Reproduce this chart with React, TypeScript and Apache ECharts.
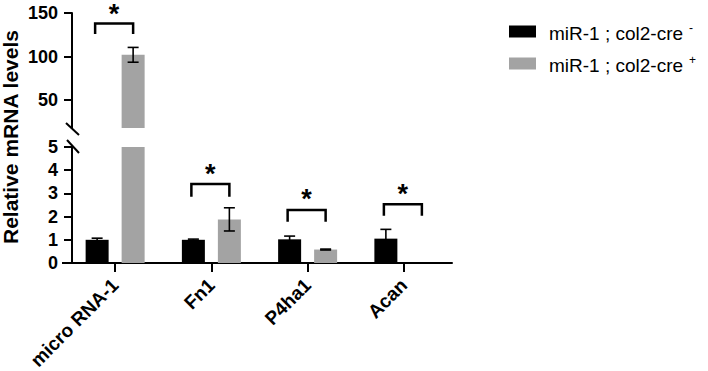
import React, { useEffect, useRef } from "react";
import * as echarts from "echarts";

const categories = ["micro RNA-1", "Fn1", "P4ha1", "Acan"];
const negMeans = [1.0, 1.0, 1.02, 1.05];
const negErr = [0.07, 0.03, 0.14, 0.4];
const posMeans = [102, 1.88, 0.58, 0];
const posErr = [8.5, 0.5, 0.02, 0];

const sigLine = [138, 3.4, 2.28, 2.53];
const sigLeg = [126, 2.86, 1.78, 2.04];
const sigStar = [156, 4.1, 3.02, 3.25];

const lowerTicks = [0, 1, 2, 3, 4, 5];
const upperTicks = [50, 100, 150];
const LOWER_MAX = 5;
const UPPER_MIN = 18;
const UPPER_MAX = 150;

const seriesNames = ["miR-1 ; col2-cre -", "miR-1 ; col2-cre +"];
const legendText = ["miR-1 ; col2-cre", "miR-1 ; col2-cre"];
const legendSup = ["-", "+"];

const FONT = "Liberation Sans, Arial, Helvetica, sans-serif";
const BLACK = "#000000";
const GRAY = "#a3a3a3";
const BAR_W = 23;
const BAR_GAP_PX = 13;
const HALF_SPACING = (BAR_W + BAR_GAP_PX) / 2;
const CAP_HALF = 5.5;
const BRACKET_HALF = 19;

export default function App() {
  const ref = useRef<HTMLDivElement>(null);
  useEffect(() => {
    if (!ref.current) return;
    const chart = echarts.init(ref.current, undefined, { renderer: "svg" });

    const errLower: number[][] = [];
    const errUpper: number[][] = [];
    [negMeans, posMeans].forEach((means, s) => {
      const errs = s === 0 ? negErr : posErr;
      means.forEach((m, i) => {
        if (errs[i] <= 0) return;
        if (m + errs[i] <= LOWER_MAX) errLower.push([i, m, errs[i], s]);
        else if (m > UPPER_MIN) errUpper.push([i, m, errs[i], s]);
      });
    });
    const sigLower: number[][] = [];
    const sigUpper: number[][] = [];
    categories.forEach((_, i) => {
      const row = [i, sigLine[i], sigLeg[i], sigStar[i]];
      if (sigLine[i] > LOWER_MAX) sigUpper.push(row);
      else sigLower.push(row);
    });

    const errRender = (params: any, api: any) => {
      const i = api.value(0);
      const m = api.value(1);
      const e = api.value(2);
      const s = api.value(3);
      const top = api.coord([i, m + e]);
      const bot = api.coord([i, Math.max(m - e, 0)]);
      const cx = top[0] + (s === 0 ? -HALF_SPACING : HALF_SPACING);
      const style = { stroke: BLACK, lineWidth: 1.6 };
      return {
        type: "group",
        children: [
          { type: "line", shape: { x1: cx, y1: top[1], x2: cx, y2: bot[1] }, style },
          { type: "line", shape: { x1: cx - CAP_HALF, y1: top[1], x2: cx + CAP_HALF, y2: top[1] }, style },
          { type: "line", shape: { x1: cx - CAP_HALF, y1: bot[1], x2: cx + CAP_HALF, y2: bot[1] }, style },
        ],
      };
    };

    const sigRender = (params: any, api: any) => {
      const i = api.value(0);
      const lineP = api.coord([i, api.value(1)]);
      const legP = api.coord([i, api.value(2)]);
      const starP = api.coord([i, api.value(3)]);
      const cx = lineP[0] - 1;
      return {
        type: "group",
        children: [
          {
            type: "polyline",
            shape: {
              points: [
                [cx - BRACKET_HALF, legP[1]],
                [cx - BRACKET_HALF, lineP[1]],
                [cx + BRACKET_HALF, lineP[1]],
                [cx + BRACKET_HALF, legP[1]],
              ],
            },
            style: { stroke: BLACK, lineWidth: 2.5, fill: "none" },
          },
          {
            type: "text",
            style: {
              text: "*",
              x: cx,
              y: starP[1] + 6,
              fontSize: 27,
              lineHeight: 16,
              fontWeight: "bold",
              fontFamily: FONT,
              fill: BLACK,
              align: "center",
              verticalAlign: "middle",
              textAlign: "center",
              textVerticalAlign: "middle",
            },
          },
        ],
      };
    };

    const gridLeft = 67;
    const gridWidth = 385;

    const axisLine = { show: true, lineStyle: { color: BLACK, width: 2 } };
    const yLabel = { color: BLACK, fontSize: 18, fontWeight: "bold", fontFamily: FONT, margin: 14 };

    const barCommon = (gi: number) => [
      {
        name: seriesNames[0],
        type: "bar",
        xAxisIndex: gi,
        yAxisIndex: gi,
        data: negMeans,
        barWidth: BAR_W,
        barGap: (BAR_GAP_PX / BAR_W) * 100 + "%",
        itemStyle: { color: BLACK },
        clip: true,
      },
      {
        name: seriesNames[1],
        type: "bar",
        xAxisIndex: gi,
        yAxisIndex: gi,
        data: posMeans,
        barWidth: BAR_W,
        barGap: (BAR_GAP_PX / BAR_W) * 100 + "%",
        itemStyle: { color: GRAY },
        clip: true,
      },
    ];

    const option: any = {
      animation: false,
      backgroundColor: "#ffffff",
      textStyle: { fontFamily: FONT },
      grid: [
        { left: gridLeft, width: gridWidth, top: 13, height: 115, outerBoundsMode: "none", containLabel: false },
        { left: gridLeft, width: gridWidth, top: 147, height: 116, outerBoundsMode: "none", containLabel: false },
      ],
      xAxis: [
        { type: "category", gridIndex: 0, data: categories, show: false },
        {
          type: "category",
          gridIndex: 1,
          data: categories,
          axisLine,
          axisTick: { show: true, alignWithLabel: true, length: 9, lineStyle: { color: BLACK, width: 2 }, interval: 0 },
          axisLabel: {
            interval: 0,
            rotate: 45,
            color: BLACK,
            fontSize: 19,
            fontWeight: "bold",
            fontFamily: FONT,
            margin: 19,
          },
        },
      ],
      yAxis: [
        {
          type: "value",
          gridIndex: 0,
          min: UPPER_MIN,
          max: UPPER_MAX,
          offset: -5,
          axisLine,
          axisTick: { show: true, length: 8, lineStyle: { color: BLACK, width: 2 }, customValues: upperTicks },
          axisLabel: { ...yLabel, customValues: upperTicks },
          splitLine: { show: false },
        },
        {
          type: "value",
          gridIndex: 1,
          min: 0,
          max: LOWER_MAX,
          interval: 1,
          offset: -5,
          axisLine,
          axisTick: { show: true, length: 8, lineStyle: { color: BLACK, width: 2 }, customValues: lowerTicks },
          axisLabel: { ...yLabel, customValues: lowerTicks },
          splitLine: { show: false },
        },
      ],
      legend: {
        data: seriesNames,
        orient: "vertical",
        left: 504,
        top: 15,
        icon: "rect",
        itemWidth: 27,
        itemHeight: 12,
        itemGap: 9,
        formatter: (name: string) => {
          const k = seriesNames.indexOf(name);
          return `{a|${legendText[k]}}{s|${legendSup[k]}}`;
        },
        textStyle: {
          color: BLACK,
          fontFamily: FONT,
          rich: {
            a: { fontSize: 19, fontFamily: FONT, color: BLACK, padding: [4, 0, 0, 8], lineHeight: 20 },
            s: { fontSize: 12, fontFamily: FONT, color: BLACK, padding: [0, 0, 6, 6], verticalAlign: "top", lineHeight: 20 },
          },
        },
      },
      graphic: [
        {
          type: "text",
          x: 10,
          y: 137,
          rotation: Math.PI / 2,
          style: {
            text: "Relative mRNA levels",
            fontSize: 21,
            fontWeight: "bold",
            fontFamily: FONT,
            fill: BLACK,
            align: "center",
            verticalAlign: "middle",
            textAlign: "center",
            textVerticalAlign: "middle",
          },
        },
        { type: "line", shape: { x1: 62, y1: 263, x2: 68, y2: 263 }, style: { stroke: BLACK, lineWidth: 2 } },
        { type: "line", shape: { x1: 66, y1: 123, x2: 79, y2: 135 }, style: { stroke: BLACK, lineWidth: 2 } },
        { type: "line", shape: { x1: 67, y1: 140, x2: 79, y2: 153 }, style: { stroke: BLACK, lineWidth: 2 } },
      ],
      series: [
        ...barCommon(0),
        ...barCommon(1),
        { type: "custom", name: "errUpper", xAxisIndex: 0, yAxisIndex: 0, data: errUpper, renderItem: errRender, encode: { x: 0, y: 1 }, z: 5 },
        { type: "custom", name: "errLower", xAxisIndex: 1, yAxisIndex: 1, data: errLower, renderItem: errRender, encode: { x: 0, y: 1 }, z: 5 },
        { type: "custom", name: "sigUpper", xAxisIndex: 0, yAxisIndex: 0, data: sigUpper, renderItem: sigRender, encode: { x: 0, y: 1 }, z: 5 },
        { type: "custom", name: "sigLower", xAxisIndex: 1, yAxisIndex: 1, data: sigLower, renderItem: sigRender, encode: { x: 0, y: 1 }, z: 5 },
      ],
    };
    chart.setOption(option);
    return () => chart.dispose();
  }, []);
  return <div ref={ref} style={{ position: "absolute", left: 0, top: 0, width: 708, height: 371 }} />;
}
